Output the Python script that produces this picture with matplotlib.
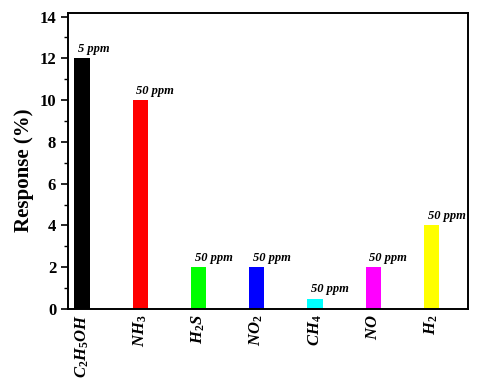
import matplotlib.pyplot as plt
from matplotlib.ticker import MultipleLocator

# === data ===
gases = [r"$\mathit{C_2H_5OH}$", r"$\mathit{NH_3}$", r"$\mathit{H_2S}$", r"$\mathit{NO_2}$",
         r"$\mathit{CH_4}$", r"$\mathit{NO}$", r"$\mathit{H_2}$"]
response = [12, 10, 2, 2, 0.5, 2, 4]
conc = ["5 ppm", "50 ppm", "50 ppm", "50 ppm", "50 ppm", "50 ppm", "50 ppm"]
colors = ["black", "red", "#00ff00", "blue", "cyan", "magenta", "yellow"]

plt.rcParams["font.family"] = "Liberation Serif"
plt.rcParams["font.weight"] = "bold"
plt.rcParams["mathtext.fontset"] = "custom"
plt.rcParams["mathtext.it"] = "Liberation Serif:italic:bold"
plt.rcParams["mathtext.rm"] = "Liberation Serif:bold"

# === Plotting ===
fig = plt.figure(figsize=(4.98, 3.82), dpi=100)
ax = fig.add_axes([0.1365, 0.191, 0.8035, 0.774])

x = list(range(len(gases)))
ax.bar(x, response, width=0.26, color=colors)
for xi, yi, c in zip(x, response, conc):
    ax.text(xi - 0.065, yi + 0.3, c, ha="left", va="baseline",
            fontsize=9, fontstyle="italic", fontweight="bold")

ax.set_xlim(-0.24, 6.63)
ax.set_ylim(0, 14.15)
ax.set_xticks(x)
ax.set_xticklabels(gases, rotation=90, fontsize=12)
ax.tick_params(axis="x", length=0, pad=4)
ax.yaxis.set_major_locator(MultipleLocator(2))
ax.yaxis.set_minor_locator(MultipleLocator(1))
ax.tick_params(axis="y", which="major", length=5, width=1.2, labelsize=12)
ax.tick_params(axis="y", which="minor", length=3, width=1.0)
ax.set_ylabel("Response (%)", fontsize=15, fontweight="bold", labelpad=4, y=0.47)
for s in ax.spines.values():
    s.set_linewidth(1.4)

plt.savefig("out.png", dpi=100)
